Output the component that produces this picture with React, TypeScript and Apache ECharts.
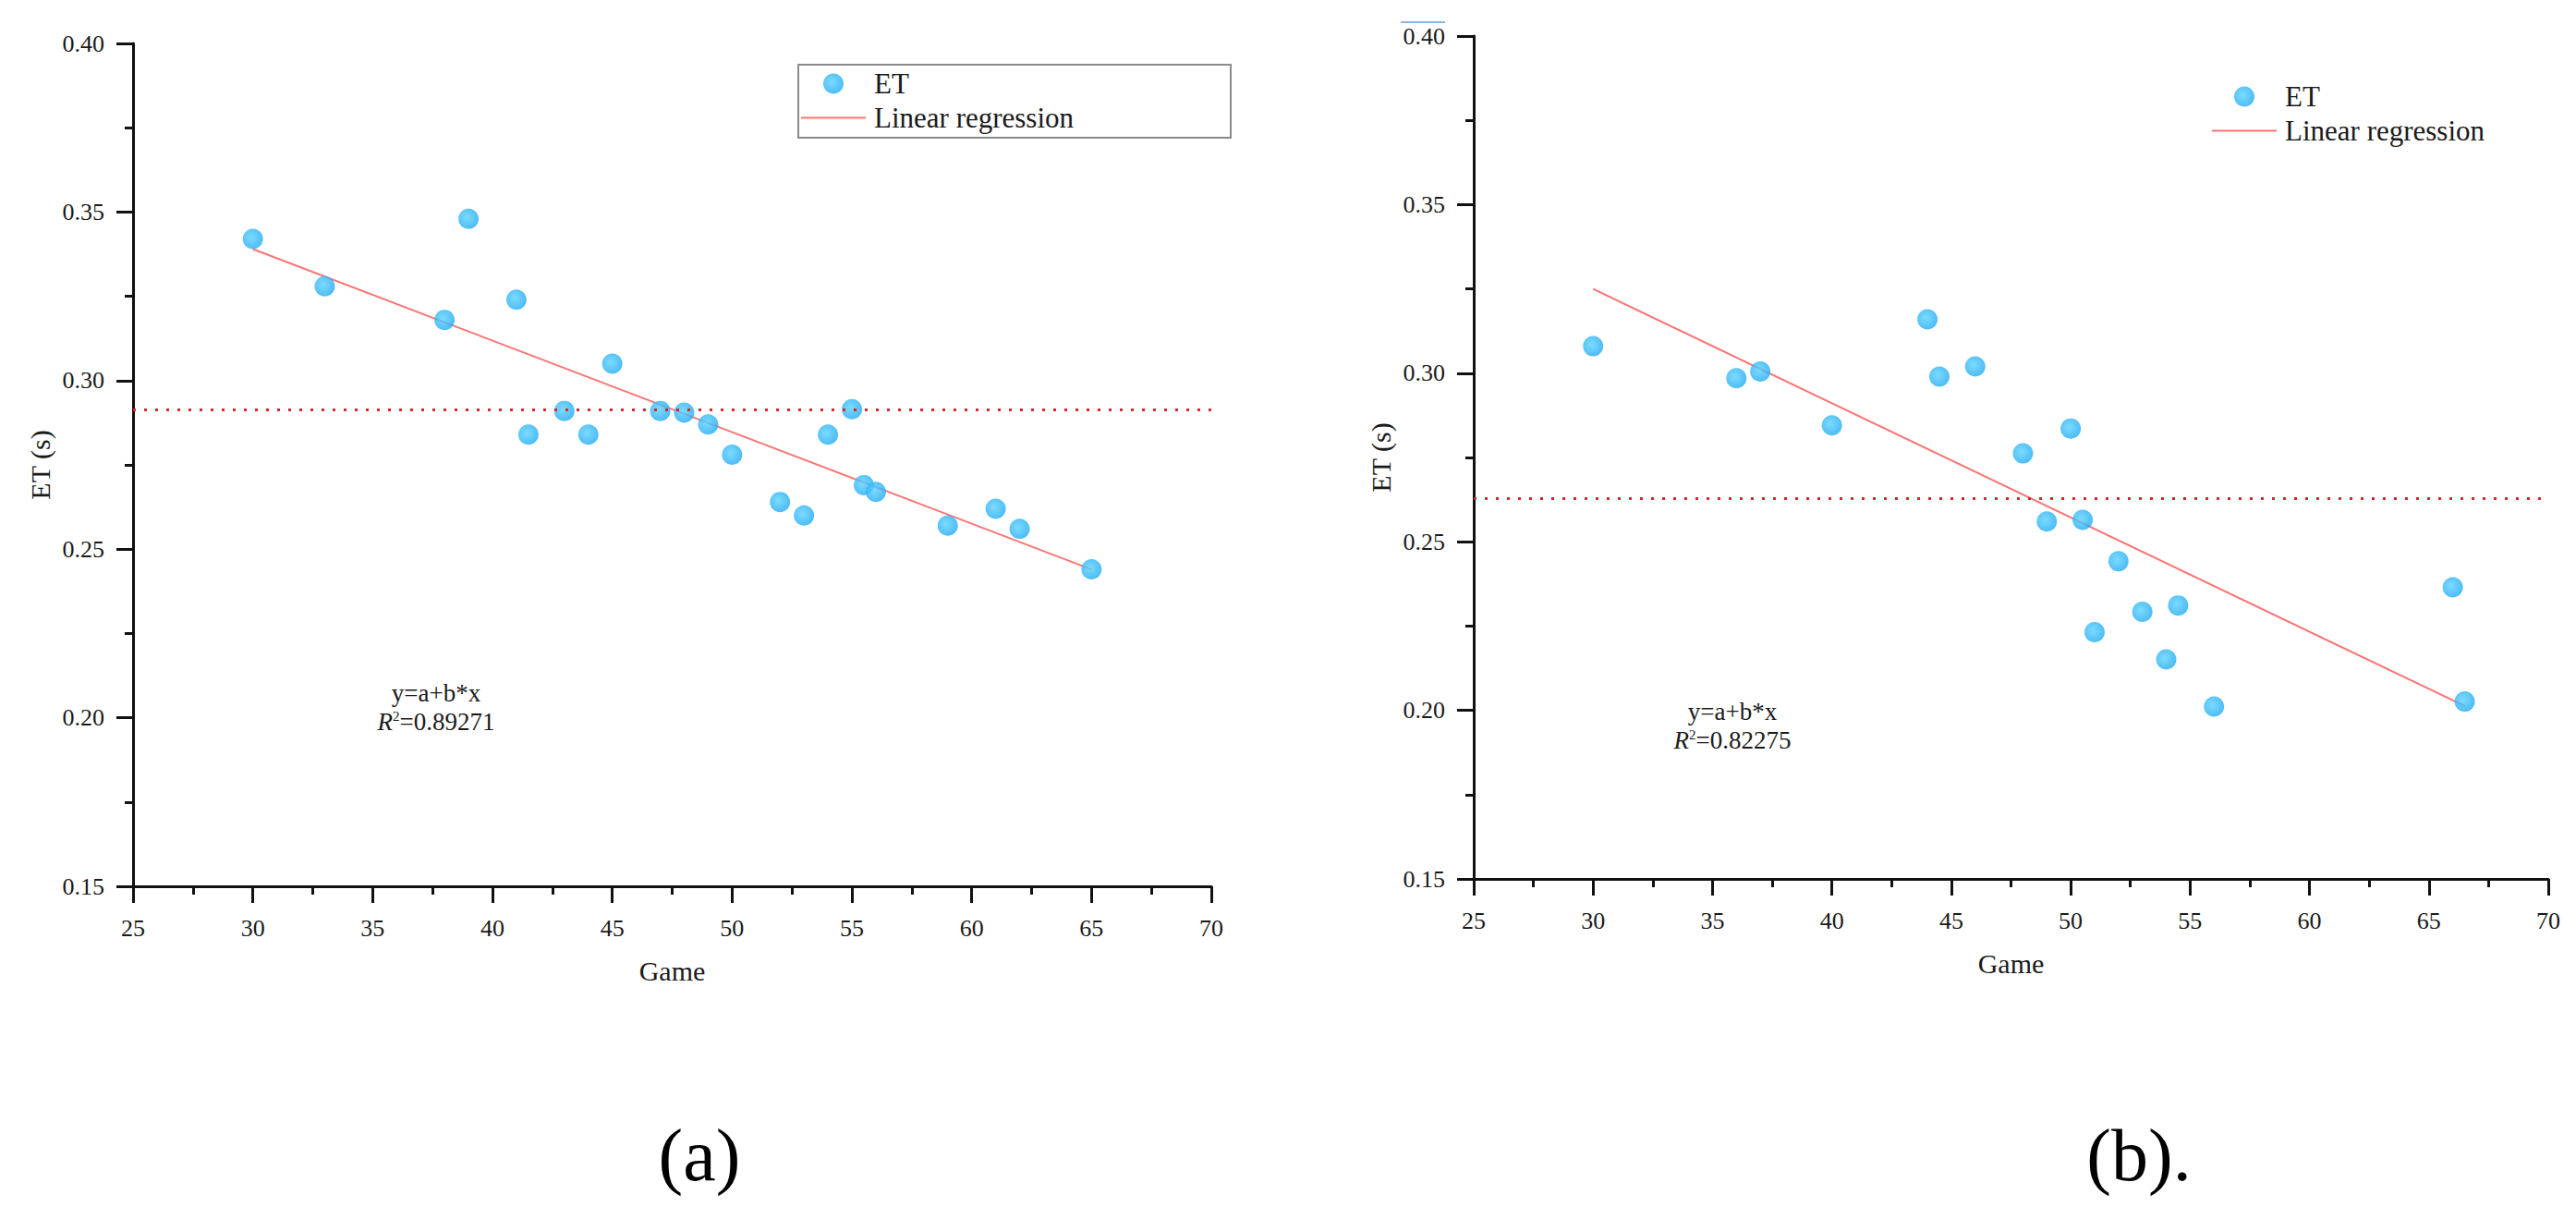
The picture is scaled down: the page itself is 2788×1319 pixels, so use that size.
import * as echarts from "echarts";
import { useEffect, useRef } from "react";

// panel (a)
const gameA = [30, 33, 38, 39, 41, 41.5, 43, 44, 45, 47, 48, 49, 50, 52, 53, 54, 55, 55.5, 56, 59, 61, 62, 65];
const etA = [0.342, 0.328, 0.318, 0.348, 0.324, 0.284, 0.291, 0.284, 0.305, 0.291, 0.2905, 0.287, 0.278, 0.264, 0.26, 0.284, 0.2915, 0.269, 0.267, 0.257, 0.262, 0.256, 0.244];
const fitGameA = [30, 65];
const fitEtA = [0.339, 0.244];
const meanA = 0.2913;
const r2A = "0.89271";

// panel (b)
const gameB = [30, 36, 37, 40, 44, 44.5, 46, 48, 49, 50, 50.5, 51, 52, 53, 54, 54.5, 56, 66, 66.5];
const etB = [0.308, 0.2985, 0.3005, 0.2845, 0.316, 0.299, 0.302, 0.2762, 0.256, 0.2836, 0.2565, 0.2232, 0.2442, 0.2292, 0.2151, 0.2311, 0.2011, 0.2365, 0.2026];
const fitGameB = [30, 66.5];
const fitEtB = [0.325, 0.2013];
const meanB = 0.263;
const r2B = "0.82275";

// axes
const xMin = 25;
const xMax = 70;
const xStep = 5;
const yMin = 0.15;
const yMax = 0.4;
const yStep = 0.05;

const FONT = "'Liberation Serif', 'Times New Roman', serif";
const TEXT = "#1a1a1a";
const FIT = "#ff7373";

const pairs = (xs: number[], ys: number[]) => xs.map((x, i) => [x, ys[i]]);

const dotColor = () =>
  new echarts.graphic.RadialGradient(0.42, 0.42, 0.62, [
    { offset: 0, color: "#5ad2ff" },
    { offset: 1, color: "#1fa9f2" },
  ]);

const xAxisOf = (gridIndex: number) => ({
  type: "value",
  gridIndex,
  min: xMin,
  max: xMax,
  interval: xStep,
  name: "Game",
  nameLocation: "middle",
  nameGap: 76,
  nameTextStyle: { fontFamily: FONT, fontSize: 30, color: TEXT },
  splitLine: { show: false },
  axisLine: { lineStyle: { color: "#111", width: 3 } },
  axisTick: { length: 18, lineStyle: { color: "#111", width: 3 } },
  minorTick: { show: true, splitNumber: 2, length: 9, lineStyle: { color: "#111", width: 3 } },
  axisLabel: { margin: 32, fontFamily: FONT, fontSize: 26, color: TEXT },
});

const yAxisOf = (gridIndex: number) => ({
  type: "value",
  gridIndex,
  min: yMin,
  max: yMax,
  interval: yStep,
  name: "ET (s)",
  nameLocation: "middle",
  nameGap: 86,
  nameTextStyle: { fontFamily: FONT, fontSize: 30, color: TEXT },
  splitLine: { show: false },
  axisLine: { show: true, lineStyle: { color: "#111", width: 3 } },
  axisTick: { show: true, length: 18, lineStyle: { color: "#111", width: 3 } },
  minorTick: { show: true, splitNumber: 2, length: 9, lineStyle: { color: "#111", width: 3 } },
  axisLabel: {
    margin: 31,
    fontFamily: FONT,
    fontSize: 26,
    color: TEXT,
    formatter: (v: number) => v.toFixed(2),
  },
});

const seriesFor = (idx: number, xs: number[], ys: number[], fx: number[], fy: number[], mean: number) => [
  {
    name: "ET",
    type: "scatter",
    xAxisIndex: idx,
    yAxisIndex: idx,
    symbol: "circle",
    symbolSize: 22,
    itemStyle: { color: dotColor() },
    data: pairs(xs, ys),
    markLine: {
      silent: true,
      symbol: "none",
      precision: 4,
      label: { show: false },
      lineStyle: { color: "#d8262c", width: 3, type: [3, 9] },
      data: [{ yAxis: mean }],
    },
    z: 3,
  },
  {
    name: "Linear regression",
    type: "line",
    xAxisIndex: idx,
    yAxisIndex: idx,
    symbol: "none",
    showSymbol: false,
    lineStyle: { color: FIT, width: 2 },
    itemStyle: { color: FIT },
    data: pairs(fx, fy),
    z: 2,
  },
];

const legendAt = (left: number, top: number) => ({
  left,
  top,
  orient: "vertical",
  padding: 0,
  itemGap: 6,
  itemWidth: 70,
  itemHeight: 22,
  selectedMode: false,
  textStyle: { fontFamily: FONT, fontSize: 31, color: TEXT, padding: [0, 0, 0, 4] },
  data: [
    { name: "ET", icon: "circle" },
    { name: "Linear regression", icon: "path://M0,0 L70,0 L70,2 L0,2 Z", itemStyle: { color: FIT } },
  ],
});

const noteText = (x: number, y: number, r2: string) => [
  {
    type: "text",
    x,
    y,
    style: {
      text: "y=a+b*x",
      fontFamily: FONT,
      fontSize: 27,
      fill: TEXT,
      align: "center",
      verticalAlign: "middle",
    },
  },
  {
    type: "text",
    x,
    y: y + 31,
    style: {
      text: "{r|R}{s|2}=" + r2,
      fontFamily: FONT,
      fontSize: 27,
      fill: TEXT,
      align: "center",
      verticalAlign: "middle",
      rich: {
        r: { fontFamily: FONT, fontSize: 27, fontStyle: "italic", fill: TEXT },
        s: { fontFamily: FONT, fontSize: 15, fill: TEXT, padding: [0, 0, 12, 0] },
      },
    },
  },
];

const App = () => {
  const chartRef = useRef<HTMLDivElement>(null);

  useEffect(() => {
    const chart = echarts.init(chartRef.current, null, { renderer: "svg" });

    const options = {
      animation: false,
      backgroundColor: "#ffffff",
      textStyle: { fontFamily: FONT },
      grid: [
        { left: 144, top: 47, width: 1167, height: 912 },
        { left: 1595, top: 39, width: 1163, height: 912 },
      ],
      xAxis: [xAxisOf(0), xAxisOf(1)],
      yAxis: [yAxisOf(0), yAxisOf(1)],
      legend: [legendAt(867, 75), legendAt(2394, 89)],
      series: [
        ...seriesFor(0, gameA, etA, fitGameA, fitEtA, meanA),
        ...seriesFor(1, gameB, etB, fitGameB, fitEtB, meanB),
      ],
      graphic: [
        // legend frame of panel (a)
        {
          type: "rect",
          shape: { x: 864, y: 70, width: 468, height: 79 },
          style: { fill: "none", stroke: "#8a8a8a", lineWidth: 2 },
          silent: true,
        },
        // small stray mark above the 0.40 label of panel (b)
        {
          type: "line",
          shape: { x1: 1516, y1: 24, x2: 1564, y2: 24 },
          style: { stroke: "#8ab4f0", lineWidth: 2 },
          silent: true,
        },
        ...noteText(472, 750, r2A),
        ...noteText(1875, 770, r2B),
        {
          type: "text",
          x: 757,
          y: 1250,
          style: {
            text: "(a)",
            fontFamily: FONT,
            fontSize: 80,
            fill: "#000",
            align: "center",
            verticalAlign: "middle",
          },
        },
        {
          type: "text",
          x: 2315,
          y: 1250,
          style: {
            text: "(b).",
            fontFamily: FONT,
            fontSize: 80,
            fill: "#000",
            align: "center",
            verticalAlign: "middle",
          },
        },
      ],
    };

    chart.setOption(options);

    const handleResize = () => chart.resize();
    window.addEventListener("resize", handleResize);

    return () => {
      window.removeEventListener("resize", handleResize);
      chart.dispose();
    };
  }, []);

  return (
    <div
      ref={chartRef}
      style={{ position: "fixed", left: 0, top: 0, width: "100vw", height: "100vh", background: "#fff" }}
    />
  );
};

export default App;
